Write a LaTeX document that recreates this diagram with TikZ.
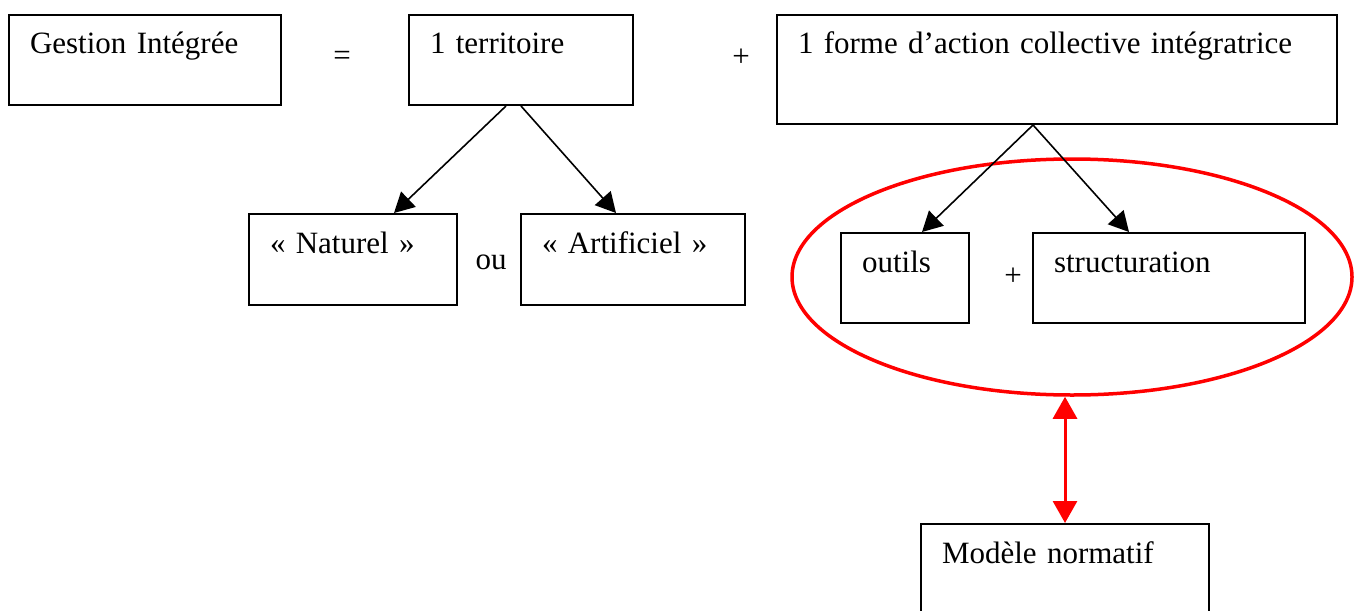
\documentclass[tikz,border=0pt]{standalone}
\usepackage{fontspec}
\setmainfont[WordSpace=0.8]{Liberation Serif}
\usetikzlibrary{arrows.meta,shapes.geometric}
\begin{document}
\begin{tikzpicture}[x=1pt,y=-1pt,
  txt/.style={font=\fontsize{31}{36}\selectfont},
  box/.style={txt, draw, line width=2pt, anchor=north west, inner xsep=21pt,
    inner ysep=0pt, align=left, text height=39pt},
  op/.style={txt, inner sep=0pt},
  link/.style={line width=1.6pt, -{Triangle[length=20pt,width=21pt]}},
  redlink/.style={red, line width=3pt,
    {Triangle[length=22pt,width=24pt]}-{Triangle[length=22pt,width=24pt]}}
]
\useasboundingbox (0,0) rectangle (1356,610);
\clip (0,0) rectangle (1356,610);

% top row: the definition
\node[box, text width=230pt, text depth=51pt] (A) at (8,14) {Gestion Intégrée};
\node[op] (eq) at (342,58) {=};
\node[box, text width=182pt, text depth=51pt] (B) at (408,14) {1 territoire};
\node[op] (plus1) at (741,58) {+};
\node[box, text width=518pt, text depth=70pt] (C) at (776,14) {1 forme d’action collective intégratrice};

% kinds of territory
\node[box, text width=166pt, text depth=52pt] (D) at (248,213) {« Naturel »};
\node[op] (ou) at (491,262) {ou};
\node[box, text width=182pt, text depth=52pt] (E) at (520,213) {« Artificiel »};

% components of collective action
\node[draw=red, line width=3.5pt, ellipse, minimum width=560pt, minimum height=236pt,
  inner sep=0pt] (ell) at (1072,277) {};
\node[box, text width=86pt, text depth=51pt] (F) at (840,232) {outils};
\node[op] (plus2) at (1013,277) {+};
\node[box, text width=230pt, text depth=51pt] (G) at (1032,232) {structuration};

% normative model
\node[box, text width=246pt, text depth=51pt] (H) at (920,523) {Modèle normatif};

% connectors
\draw[link] ([xshift=-15pt]B.south) -- ([xshift=41pt]D.north);
\draw[link] (B.south) -- ([xshift=-17pt]E.north);
\draw[link] ([xshift=-24pt]C.south) -- ([xshift=17pt]F.north);
\draw[link] ([xshift=-24pt]C.south) -- ([xshift=-40pt]G.north);
\draw[redlink] (ell.south -| H.north) -- (H.north);
\end{tikzpicture}
\end{document}
